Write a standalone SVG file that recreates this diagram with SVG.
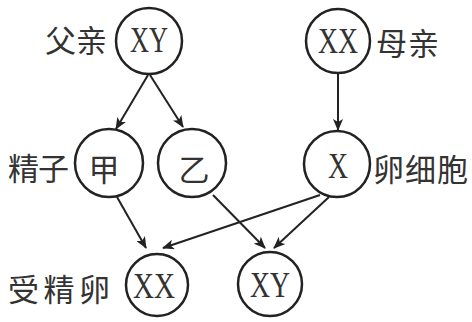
<svg xmlns="http://www.w3.org/2000/svg" width="472" height="322" viewBox="0 0 472 322">
<defs>
<marker id="ah" viewBox="0 0 12 10" refX="11" refY="5" markerWidth="12" markerHeight="10" markerUnits="userSpaceOnUse" orient="auto">
<path d="M0,0 L12,5 L0,10 L3,5 Z" fill="#222"/>
</marker>
<style>
.c{fill:#fff;stroke:#222;stroke-width:2.5}
.g{font-family:"Liberation Serif","Times New Roman",serif;font-size:36px;fill:#333;text-anchor:middle;dominant-baseline:central}
.z{font-family:"Noto Sans CJK SC","Noto Sans",sans-serif;font-size:31px;fill:#333;dominant-baseline:central}
.e line{stroke:#222;stroke-width:2;marker-end:url(#ah)}
</style>
</defs>
<rect width="472" height="322" fill="#fff"/>
<g class="e" id="connectors">
<line x1="148" y1="75" x2="116" y2="129"/>
<line x1="150" y1="75" x2="183" y2="127"/>
<line x1="338" y1="74" x2="338" y2="130"/>
<line x1="117" y1="197" x2="146" y2="248"/>
<line x1="213" y1="195" x2="265" y2="248"/>
<line x1="320" y1="195" x2="163" y2="248"/>
<line x1="329" y1="197" x2="274" y2="248"/>
</g>
<g id="father"><circle class="c" cx="149" cy="41" r="33"/><text class="g" x="149" y="40" textLength="38" lengthAdjust="spacingAndGlyphs">XY</text><text class="z" x="45" y="38" textLength="62">父亲</text></g>
<g id="mother"><circle class="c" cx="338" cy="41" r="32"/><text class="g" x="338" y="41" textLength="40" lengthAdjust="spacingAndGlyphs">XX</text><text class="z" x="376" y="41" textLength="63">母亲</text></g>
<g id="jia"><circle class="c" cx="109" cy="163" r="34"/><text class="z" x="104" y="167" text-anchor="middle">甲</text><text class="z" x="8" y="166" textLength="61">精子</text></g>
<g id="yi"><circle class="c" cx="192" cy="163" r="34"/><text class="z" x="194" y="167" text-anchor="middle">乙</text></g>
<g id="egg"><circle class="c" cx="337" cy="164" r="33"/><text class="g" x="338" y="166" textLength="20" lengthAdjust="spacingAndGlyphs">X</text><text class="z" x="373" y="167" textLength="95">卵细胞</text></g>
<g id="zxx"><circle class="c" cx="157" cy="285" r="31"/><text class="g" x="154" y="286" textLength="42" lengthAdjust="spacingAndGlyphs">XX</text><text class="z" x="8" y="287" textLength="102">受精卵</text></g>
<g id="zxy"><circle class="c" cx="270" cy="284" r="32"/><text class="g" x="270" y="285" textLength="40" lengthAdjust="spacingAndGlyphs">XY</text></g>
</svg>
